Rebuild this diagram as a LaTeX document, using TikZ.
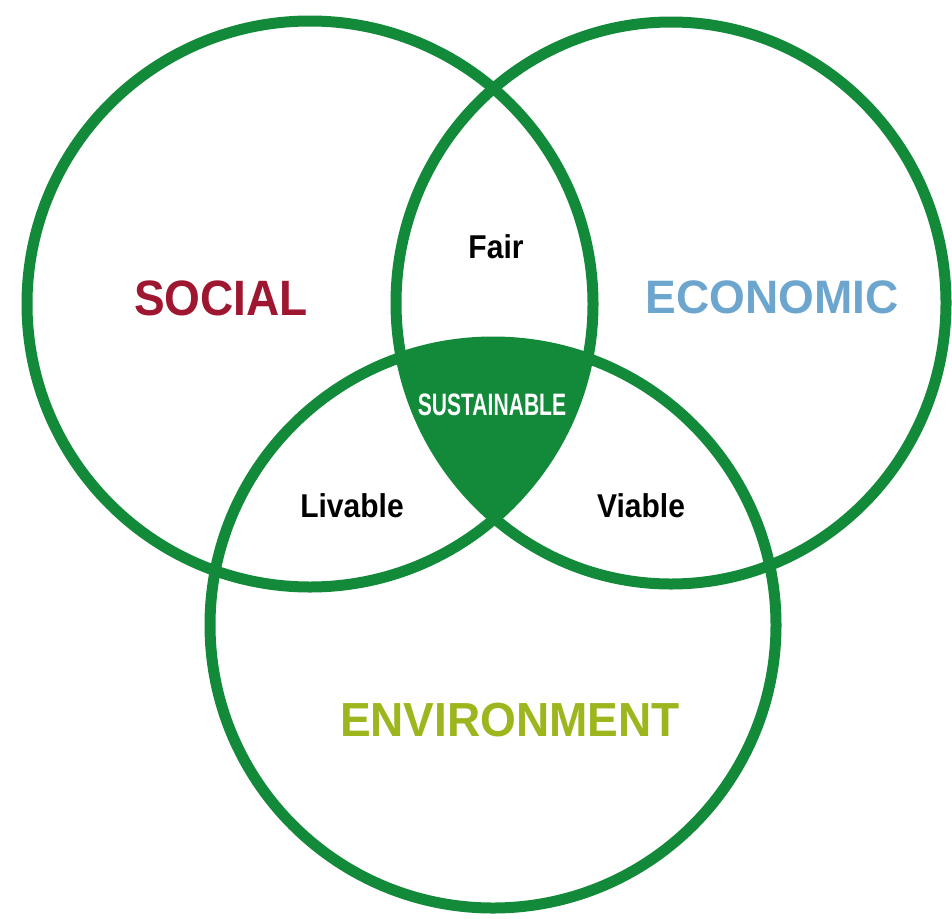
\documentclass[tikz,border=0pt]{standalone}
\usepackage{fontspec}
\setmainfont{Liberation Sans}
\definecolor{vgreen}{RGB}{18,138,58}
\definecolor{socred}{RGB}{158,22,48}
\definecolor{ecoblue}{RGB}{108,166,206}
\definecolor{envgreen}{RGB}{158,182,30}
\begin{document}
\begin{tikzpicture}[x=1pt,y=-1pt,
  ring/.style={draw=vgreen,line width=11pt},
  bigtext/.style={inner sep=0pt,anchor=base,font=\bfseries\fontsize{46}{46}\selectfont},
  smalltext/.style={inner sep=0pt,anchor=base,text=black,font=\bfseries\fontsize{30}{30}\selectfont}]
\useasboundingbox (0,0) rectangle (952,918);
\fill[white] (0,0) rectangle (952,918);
\begin{scope}
  \clip (310,304) circle[radius=283];
  \clip (671,303) ellipse[x radius=275,y radius=281];
  \fill[vgreen] (493,625) circle[radius=283];
\end{scope}
\draw[ring] (310,304) circle[radius=283];
\draw[ring] (671,303) ellipse[x radius=275,y radius=281];
\draw[ring] (493,625) circle[radius=283];
\node[bigtext,text=socred] (social) at (221,315) {\scalebox{1}[1.08]{SOCIAL}};
\node[bigtext,text=ecoblue] (economic) at (772,313) {\scalebox{1}[1.02]{ECONOMIC}};
\node[bigtext,text=envgreen] (environment) at (510,736) {\scalebox{1}[1.04]{ENVIRONMENT}};
\node[smalltext] (fair) at (496,258) {\scalebox{1}[1.1]{Fair}};
\node[smalltext] (livable) at (352,517) {\scalebox{1}[1.1]{Livable}};
\node[smalltext] (viable) at (641,517) {\scalebox{1}[1.1]{Viable}};
\node[inner sep=0pt,anchor=base,text=white,font=\bfseries\fontsize{31}{31}\selectfont] (sustainable) at (492,415) {\scalebox{0.68}[1]{SUSTAINABLE}};
\end{tikzpicture}
\end{document}
